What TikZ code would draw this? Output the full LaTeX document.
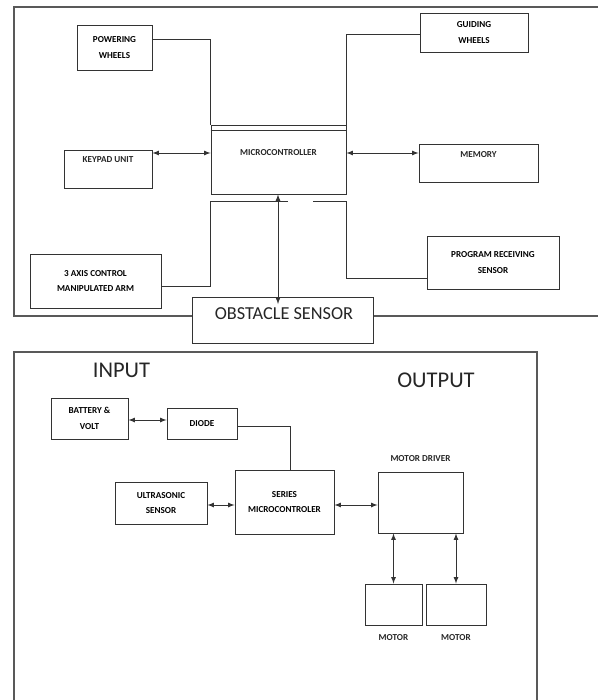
\documentclass[tikz,border=0pt]{standalone}
\usepackage{fontspec}
\setmainfont{Carlito}
\usetikzlibrary{calc}

\begin{document}
\begin{tikzpicture}[x=0.025cm,y=-0.025cm]
\tikzstyle{every node}+=[inner sep=0pt]
\tikzstyle{wire}=[draw=black!80, line width=0.6pt]
\tikzstyle{frame}=[draw=black!65, line width=0.8pt]
\tikzstyle{twoway}=[wire, <->, >=latex]
\tikzstyle{blk}=[draw=black!80, line width=0.6pt, fill=white, align=center, font=\fontsize{6.5}{11}\selectfont\bfseries]
\tikzstyle{lbl}=[text=black!85, font=\fontsize{6.5}{8}\selectfont\bfseries]
\tikzstyle{big}=[text=black!85, font=\fontsize{16}{18}\selectfont]
\useasboundingbox (0,0) rectangle (598,700);
\draw [frame] (598,7) -- (14,7) -- (14,316) -- (598,316);
\draw [frame] (14,700) -- (14,352) -- (537,352) -- (537,700);
\node [blk, minimum width=1.875cm, minimum height=1.125cm] (pw) at (114.5,47.5) {POWERING\\WHEELS};
\node [blk, minimum width=2.7cm, minimum height=0.975cm] (gw) at (474,32.5) {GUIDING\\WHEELS};
\node [blk, minimum width=3.375cm, minimum height=1.725cm] (mc) at (278.5,159.5) {};
\node [lbl] (mctext) at (278.5,153) {MICROCONTROLLER};
\draw [wire] ([yshift=-0.15cm]mc.north west) -- ([yshift=-0.15cm]mc.north east);
\node [blk, minimum width=2.2cm, minimum height=0.95cm] (kp) at (108,169) {};
\node [lbl] (kptext) at (108,160) {KEYPAD UNIT};
\node [blk, minimum width=2.975cm, minimum height=0.95cm] (mem) at (478.5,163) {};
\node [lbl] (memtext) at (478.5,155) {MEMORY};
\node [blk, minimum width=3.275cm, minimum height=1.35cm] (arm) at (95.5,281) {3 AXIS CONTROL\\MANIPULATED ARM};
\node [blk, minimum width=3.3cm, minimum height=1.325cm] (prog) at (493,262.5) {PROGRAM RECEIVING\\SENSOR};
\node [blk, minimum width=4.525cm, minimum height=1.15cm] (obs) at (282.5,320) {};
\node [big, font=\fontsize{13}{15}\selectfont] (obstext) at (284,314) {OBSTACLE SENSOR};
\coordinate (kprow) at (0,153);
\coordinate (armtap) at (288,201);
\coordinate (progtap) at (313,201);
\coordinate (obstip) at (278,304);
\draw [twoway] (kp.east |- kprow) -- (mc.west |- kprow);
\draw [twoway] (mc.east |- kprow) -- (mem.west |- kprow);
\draw [twoway] (mc.south -| obstip) -- (obstip);
\draw [wire] ($(pw.north east)!0.33!(pw.south east)$) -| (mc.north west);
\draw [wire] ($(gw.north west)!0.54!(gw.south west)$) -| (mc.north east);
\draw [wire] ($(arm.north east)!0.59!(arm.south east)$) -| (mc.south west |- armtap) -- (armtap);
\draw [wire] ($(prog.north west)!0.79!(prog.south west)$) -| (mc.south east |- progtap) -- (progtap);
\node [big] (intext) at (121.5,370) {INPUT};
\node [big] (outtext) at (436,380) {OUTPUT};
\node [blk, minimum width=1.925cm, minimum height=1.025cm] (bat) at (89.5,418.5) {BATTERY \&\\VOLT};
\node [blk, minimum width=1.75cm, minimum height=0.775cm] (diode) at (202,423.5) {DIODE};
\node [blk, minimum width=2.3cm, minimum height=1.05cm] (us) at (161,503) {ULTRASONIC\\SENSOR};
\node [blk, minimum width=2.475cm, minimum height=1.6cm] (ser) at (284.5,502) {SERIES\\MICROCONTROLER};
\node [blk, minimum width=2.125cm, minimum height=1.525cm, label={[lbl, label distance=0.25cm]above:MOTOR DRIVER}] (drv) at (420.5,502.5) {};
\node [blk, minimum width=1.425cm, minimum height=1.025cm, label={[lbl, label distance=0.22cm]below:MOTOR}] (m1) at (393.5,604.5) {};
\node [blk, minimum width=1.5cm, minimum height=1.025cm, label={[lbl, label distance=0.22cm]below:MOTOR}] (m2) at (456,604.5) {};
\coordinate (batrow) at (0,420);
\coordinate (dtap) at (290,426);
\coordinate (serrow) at (0,505);
\draw [twoway] (bat.east |- batrow) -- (diode.west |- batrow);
\draw [wire] (diode.east |- dtap) -| (ser.north -| dtap);
\draw [twoway] (us.east |- serrow) -- (ser.west |- serrow);
\draw [twoway] (ser.east |- serrow) -- (drv.west |- serrow);
\draw [twoway] (drv.south -| m1.north) -- (m1.north);
\draw [twoway] (drv.south -| m2.north) -- (m2.north);
\end{tikzpicture}
\end{document}
